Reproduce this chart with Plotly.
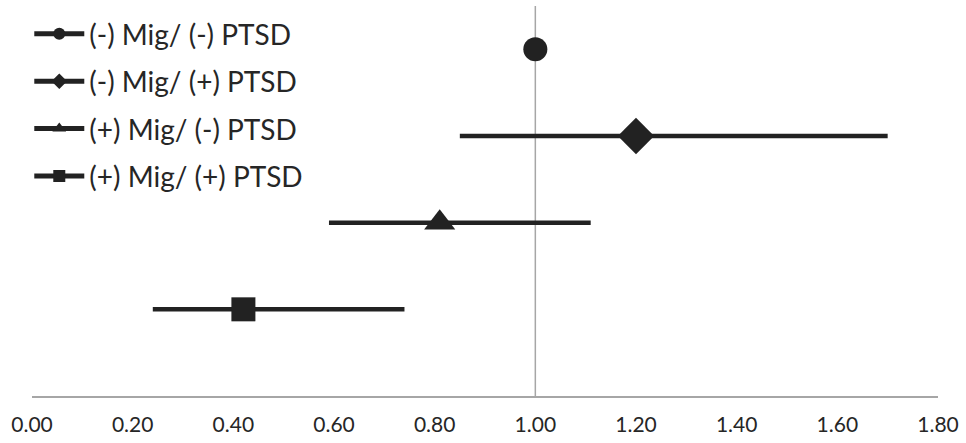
import plotly.graph_objects as go

labels = ["(-) Mig/ (-) PTSD", "(-) Mig/ (+) PTSD", "(+) Mig/ (-) PTSD", "(+) Mig/ (+) PTSD"]
estimates = [1.00, 1.20, 0.81, 0.42]
ci_low = [1.00, 0.85, 0.59, 0.24]
ci_high = [1.00, 1.70, 1.11, 0.74]
rows = [4, 3, 2, 1]
symbols = ["circle", "diamond", "triangle-up", "square"]
sizes = [24, 28, 27, 24]
tick_vals = [0.0, 0.2, 0.4, 0.6, 0.8, 1.0, 1.2, 1.4, 1.6, 1.8]
tick_text = ["0.00", "0.20", "0.40", "0.60", "0.80", "1.00", "1.20", "1.40", "1.60", "1.80"]
REF_VALUE = 1.0

DARK = "#222222"
fig = go.Figure()
for i, lab in enumerate(labels):
    has_ci = ci_high[i] != ci_low[i]
    fig.add_trace(go.Scatter(
        x=[estimates[i]], y=[rows[i]], name=lab, mode="lines+markers",
        legendgroup=lab,
        marker=dict(symbol=symbols[i], size=sizes[i], color=DARK),
        line=dict(color=DARK, width=4.5),
        error_x=dict(type="data", symmetric=False,
                     array=[ci_high[i] - estimates[i]],
                     arrayminus=[estimates[i] - ci_low[i]],
                     color=DARK, thickness=4.5, width=0, visible=has_ci),
    ))

fig.add_vline(x=REF_VALUE, line=dict(color="#a6a6a6", width=1.5), layer="below")

fig.update_layout(
    width=966, height=443,
    margin=dict(l=32, r=28, t=6, b=47, autoexpand=False),
    paper_bgcolor="white", plot_bgcolor="white",
    font=dict(family="Lato", color="#333333"),
    showlegend=True,
    legend=dict(x=-0.003, y=0.992, xanchor="left", yanchor="top",
                font=dict(size=28, color="#262626"),
                itemsizing="constant", itemwidth=50,
                traceorder="grouped", tracegroupgap=8,
                bgcolor="rgba(0,0,0,0)"),
    xaxis=dict(range=[0, 1.8], tickvals=tick_vals, ticktext=tick_text,
               showgrid=False, zeroline=False, showline=True,
               linecolor="#a6a6a6", linewidth=1.5, ticks="", automargin=False,
               tickfont=dict(size=21, color="#262626"), ticklabelstandoff=9),
    yaxis=dict(range=[0, 4.5], showgrid=False, zeroline=False,
               showline=False, showticklabels=False, ticks="", automargin=False),
)

fig.write_html("out.html", config={"displayModeBar": False},
               post_script="document.body.style.margin='0';document.body.style.overflow='hidden';")
